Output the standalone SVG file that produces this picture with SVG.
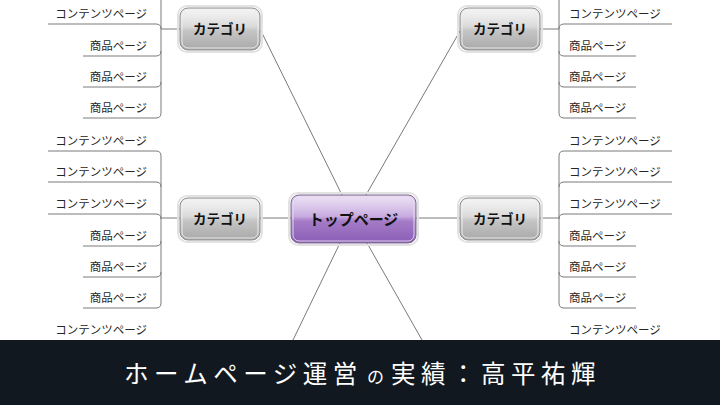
<svg xmlns="http://www.w3.org/2000/svg" width="720" height="405" viewBox="0 0 720 405">
<style>
.ln{fill:none;stroke:#7a7a7a;stroke-width:1}
.lf{font-family:"Noto Sans CJK JP","Noto Sans",sans-serif;font-size:11.5px;fill:#262626}
.le{text-anchor:end}
.cat{font-family:"Noto Sans CJK JP","Noto Sans",sans-serif;font-size:13.5px;font-weight:bold;fill:#111;text-anchor:middle}
.top{font-family:"Noto Sans CJK JP","Noto Sans",sans-serif;font-size:15px;font-weight:bold;fill:#111;text-anchor:middle}
.ttl{font-family:"Noto Sans CJK JP","Noto Sans",sans-serif;fill:#fff}
.halo{fill:none;stroke:#e2e2e2;stroke-width:2}
.gb{fill:url(#gray);stroke:#8e8e8e;stroke-width:1}
.pb{fill:url(#purple);stroke:#7d6a8c;stroke-width:1}
.inner{fill:none;stroke:#ffffff;stroke-opacity:0.7;stroke-width:1}
.gloss{fill:url(#gloss)}
</style>
<defs>
<linearGradient id="gray" x1="0" y1="0" x2="0" y2="1">
<stop offset="0" stop-color="#ececec"/>
<stop offset="0.45" stop-color="#d6d6d6"/>
<stop offset="0.55" stop-color="#c4c4c4"/>
<stop offset="1" stop-color="#a9a9a9"/>
</linearGradient>
<linearGradient id="purple" x1="0" y1="0" x2="0" y2="1">
<stop offset="0" stop-color="#ddcbec"/>
<stop offset="0.45" stop-color="#c2a3dc"/>
<stop offset="0.55" stop-color="#a47bc7"/>
<stop offset="1" stop-color="#8a5db5"/>
</linearGradient>
<linearGradient id="gloss" x1="0" y1="0" x2="0" y2="1">
<stop offset="0" stop-color="#ffffff" stop-opacity="0.4"/>
<stop offset="1" stop-color="#ffffff" stop-opacity="0.05"/>
</linearGradient>
</defs>
<rect x="0" y="0" width="720" height="405" fill="#ffffff"/>

<g id="connectors">
<path class="ln" d="M261,31 L342,195"/>
<path class="ln" d="M460,31 L366,195"/>
<path class="ln" d="M340,243 L293,340"/>
<path class="ln" d="M367,243 L422,340"/>
<path class="ln" d="M260,218 H291"/>
<path class="ln" d="M416,218 H460"/>
<path class="ln" d="M161,29 H180"/>
<path class="ln" d="M540,29 H559"/>
<path class="ln" d="M161,218 H180"/>
<path class="ln" d="M540,218 H559"/>
<path class="ln" d="M161,0 V113"/>
<path class="ln" d="M48,24 H156 Q161,24 161,29"/>
<path class="ln" d="M83,56 H156 Q161,56 161,51"/>
<path class="ln" d="M83,87 H156 Q161,87 161,82"/>
<path class="ln" d="M83,118 H156 Q161,118 161,113"/>
<path class="ln" d="M161,156 V303"/>
<path class="ln" d="M48,151 H156 Q161,151 161,156"/>
<path class="ln" d="M48,182 H156 Q161,182 161,187"/>
<path class="ln" d="M48,214 H156 Q161,214 161,219"/>
<path class="ln" d="M83,246 H156 Q161,246 161,241"/>
<path class="ln" d="M83,277 H156 Q161,277 161,272"/>
<path class="ln" d="M83,308 H156 Q161,308 161,303"/>
<path class="ln" d="M559,0 V113"/>
<path class="ln" d="M672,24 H564 Q559,24 559,29"/>
<path class="ln" d="M636,56 H564 Q559,56 559,51"/>
<path class="ln" d="M636,87 H564 Q559,87 559,82"/>
<path class="ln" d="M636,118 H564 Q559,118 559,113"/>
<path class="ln" d="M559,156 V303"/>
<path class="ln" d="M672,151 H564 Q559,151 559,156"/>
<path class="ln" d="M672,182 H564 Q559,182 559,187"/>
<path class="ln" d="M672,214 H564 Q559,214 559,219"/>
<path class="ln" d="M636,246 H564 Q559,246 559,241"/>
<path class="ln" d="M636,277 H564 Q559,277 559,272"/>
<path class="ln" d="M636,308 H564 Q559,308 559,303"/>
</g>

<g id="top-page">
<rect class="halo" x="289" y="193" width="129" height="52" rx="9"/>
<rect class="pb" x="291" y="195" width="125" height="48" rx="8"/>
<rect class="inner" x="293" y="197" width="121" height="44" rx="6"/>
<rect class="gloss" x="294" y="198" width="119" height="20" rx="5"/>
<text class="top" x="353.5" y="224.5">トップページ</text>
</g>

<g id="cat-top-left">
<rect class="halo" x="178" y="6" width="84" height="46" rx="9"/>
<rect class="gb" x="180" y="8" width="80" height="42" rx="8"/>
<rect class="inner" x="182" y="10" width="76" height="38" rx="6"/>
<rect class="gloss" x="183" y="11" width="74" height="17" rx="5"/>
<text class="cat" x="220" y="34">カテゴリ</text>
</g>
<g id="cat-top-right">
<rect class="halo" x="458" y="6" width="84" height="46" rx="9"/>
<rect class="gb" x="460" y="8" width="80" height="42" rx="8"/>
<rect class="inner" x="462" y="10" width="76" height="38" rx="6"/>
<rect class="gloss" x="463" y="11" width="74" height="17" rx="5"/>
<text class="cat" x="500" y="34">カテゴリ</text>
</g>
<g id="cat-mid-left">
<rect class="halo" x="178" y="196" width="84" height="46" rx="9"/>
<rect class="gb" x="180" y="198" width="80" height="42" rx="8"/>
<rect class="inner" x="182" y="200" width="76" height="38" rx="6"/>
<rect class="gloss" x="183" y="201" width="74" height="17" rx="5"/>
<text class="cat" x="220" y="224">カテゴリ</text>
</g>
<g id="cat-mid-right">
<rect class="halo" x="458" y="196" width="84" height="46" rx="9"/>
<rect class="gb" x="460" y="198" width="80" height="42" rx="8"/>
<rect class="inner" x="462" y="200" width="76" height="38" rx="6"/>
<rect class="gloss" x="463" y="201" width="74" height="17" rx="5"/>
<text class="cat" x="500" y="224">カテゴリ</text>
</g>

<g id="leaves-top-left">
<text class="lf le" x="147" y="17.5">コンテンツページ</text>
<text class="lf le" x="147" y="49.5">商品ページ</text>
<text class="lf le" x="147" y="80.5">商品ページ</text>
<text class="lf le" x="147" y="111.5">商品ページ</text>
</g>
<g id="leaves-mid-left">
<text class="lf le" x="147" y="144.5">コンテンツページ</text>
<text class="lf le" x="147" y="175.5">コンテンツページ</text>
<text class="lf le" x="147" y="207.5">コンテンツページ</text>
<text class="lf le" x="147" y="239.5">商品ページ</text>
<text class="lf le" x="147" y="270.5">商品ページ</text>
<text class="lf le" x="147" y="301.5">商品ページ</text>
<text class="lf le" x="147" y="333.5">コンテンツページ</text>
</g>
<g id="leaves-top-right">
<text class="lf" x="569" y="17.5">コンテンツページ</text>
<text class="lf" x="569" y="49.5">商品ページ</text>
<text class="lf" x="569" y="80.5">商品ページ</text>
<text class="lf" x="569" y="111.5">商品ページ</text>
</g>
<g id="leaves-mid-right">
<text class="lf" x="569" y="144.5">コンテンツページ</text>
<text class="lf" x="569" y="175.5">コンテンツページ</text>
<text class="lf" x="569" y="207.5">コンテンツページ</text>
<text class="lf" x="569" y="239.5">商品ページ</text>
<text class="lf" x="569" y="270.5">商品ページ</text>
<text class="lf" x="569" y="301.5">商品ページ</text>
<text class="lf" x="569" y="333.5">コンテンツページ</text>
</g>

<g id="banner">
<rect x="0" y="340" width="720" height="65" fill="#111820"/>
<text class="ttl" y="382.5"><tspan x="124" font-size="24.5px" letter-spacing="5.5px">ホームページ運営</tspan><tspan x="367" font-size="17px">の</tspan><tspan x="391" font-size="24.5px" letter-spacing="5.5px">実績：高平祐輝</tspan></text>
</g>
</svg>
